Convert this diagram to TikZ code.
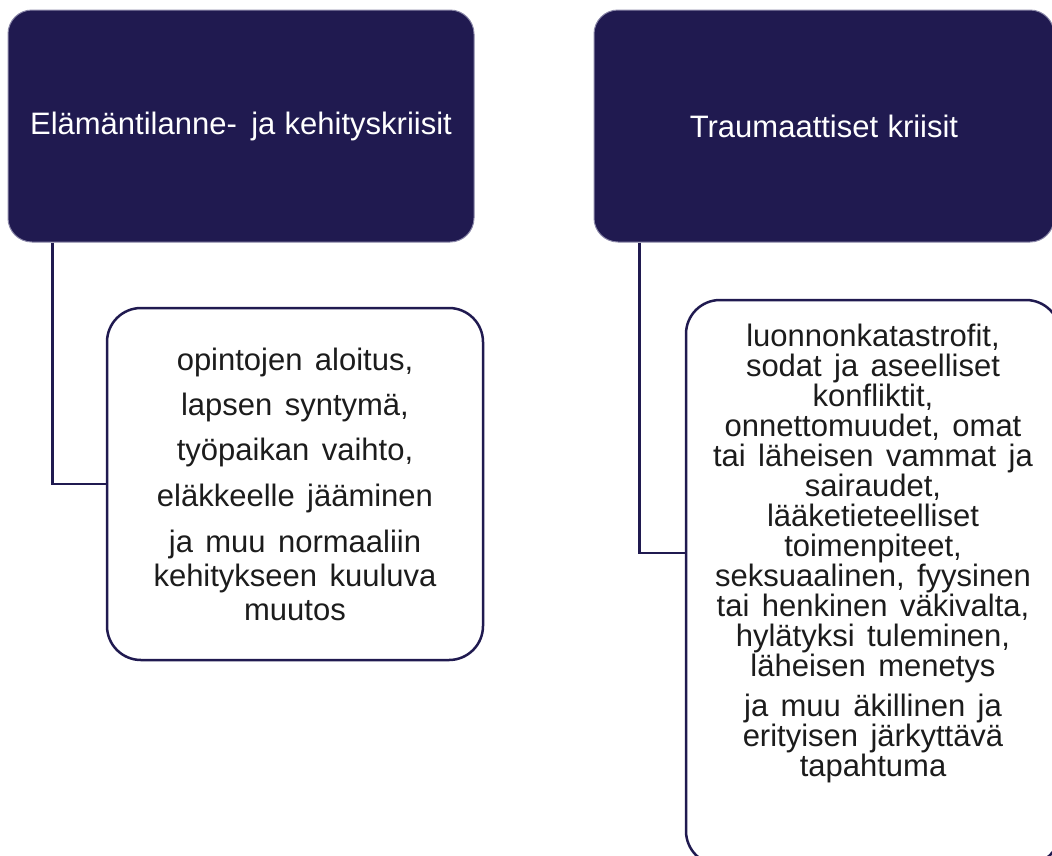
\documentclass[tikz,border=0pt]{standalone}
\usepackage{fontspec}
\setmainfont{Liberation Sans}
\usetikzlibrary{calc}
\definecolor{navy}{HTML}{201A50}
\definecolor{hedge}{HTML}{8A87A8}
\definecolor{txt}{HTML}{1C1C1C}
\newcommand\headfont{\fontsize{31}{36}\selectfont\spaceskip 0.3em\relax}
\newcommand\leftfont{\fontsize{31}{34}\selectfont\spaceskip 0.4em\relax}
\newcommand\rightfont{\fontsize{31}{30}\selectfont\spaceskip 0.4em\relax}
\begin{document}
\begin{tikzpicture}[x=1pt,y=-1pt,
  head/.style={rectangle, rounded corners=24pt, fill=navy, draw=hedge, line width=1pt,
    text=white, font=\headfont, inner sep=0pt},
  sub/.style={rectangle, rounded corners=34pt, draw=navy, line width=2.5pt, fill=white, inner sep=0pt},
  subtext/.style={text=txt, align=center, inner sep=0pt},
  link/.style={draw=navy, line width=2.5pt}]
\useasboundingbox (0,0) rectangle (1052,855);
\clip (0,0) rectangle (1052,855);
% header boxes
\node[head, minimum width=466pt, minimum height=232pt] (h1) at (241,126) {Elämäntilanne-\, ja kehityskriisit};
\node[head, minimum width=460pt, minimum height=232pt] (h2) at (824,126) {Traumaattiset kriisit};
% child boxes
\node[sub, subtext, minimum width=376pt, minimum height=352pt, font=\leftfont] (c1) at (295,484)
  {opintojen aloitus,\\[11pt] lapsen syntymä,\\[11pt] työpaikan vaihto,\\[12pt] eläkkeelle jääminen\\[12pt]
   ja muu normaaliin\\ kehitykseen kuuluva\\ muutos};
\node[sub, minimum width=374pt, minimum height=565pt] (c2) at (873,582.5) {};
\node[subtext, font=\rightfont] (t2) at (873,553)
  {luonnonkatastrofit,\\ sodat ja aseelliset\\ konfliktit,\\ onnettomuudet, omat\\
   tai läheisen vammat ja\\ sairaudet,\\ lääketieteelliset\\ toimenpiteet,\\
   seksuaalinen, fyysinen\\ tai henkinen väkivalta,\\ hylätyksi tuleminen,\\ läheisen menetys\\[10pt]
   ja muu äkillinen ja\\ erityisen järkyttävä\\ tapahtuma};
% connectors
\draw[link] ($(h1.south west)+(45,0)$) |- (c1.west);
\draw[link] ($(h2.south west)+(46,0)$) |- (c2.west |- t2.center);
\end{tikzpicture}
\end{document}
